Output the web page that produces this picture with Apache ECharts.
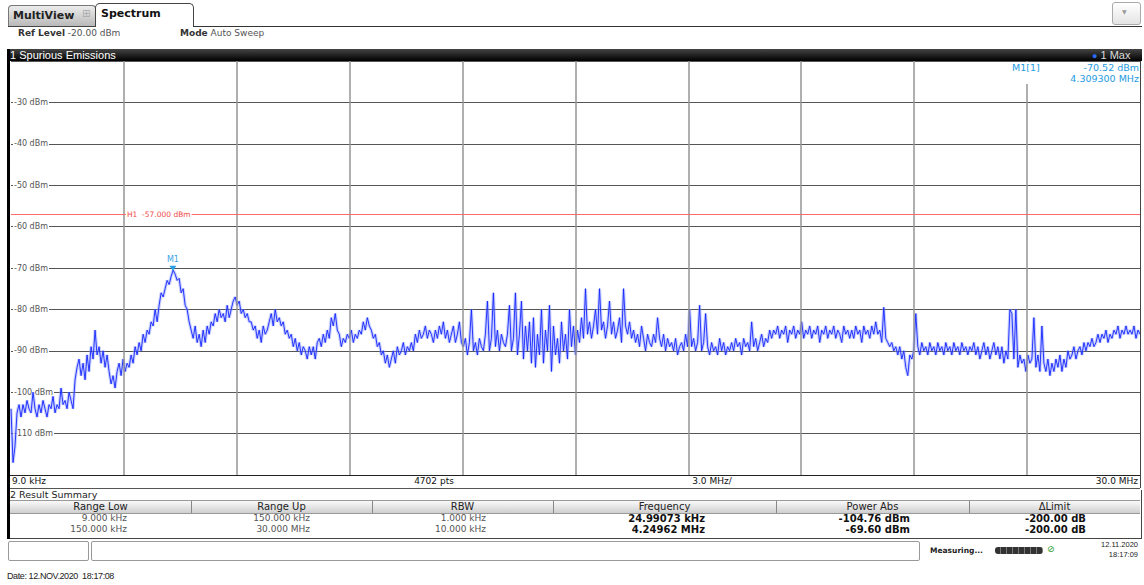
<!DOCTYPE html>
<html><head><meta charset="utf-8">
<script src="https://cdn.jsdelivr.net/npm/echarts@6/dist/echarts.min.js"></script>
<style>
html,body{margin:0;padding:0;background:#fff;}
body{width:1144px;height:585px;overflow:hidden;position:relative;font-family:"DejaVu Sans",sans-serif;color:#222;}
.a{position:absolute;white-space:nowrap;}
</style></head><body>
<script>
// ---------------- data ----------------
const startFreqMHz = 0.009;
const stopFreqMHz = 30.0;
const sweepPoints = 4702;
const refLevelDbm = -20;
const yMinDbm = -120;
const yStepDb = 10;
const limitH1Dbm = -57.0;
const markerM1 = { name: 'M1', freqMHz: 4.3093, levelDbm: -70.52 };
// trace levels (dBm), evenly spread across the sweep span
const traceDbm = [
 -104,-117,-113,-105,-103,-106,-103,-105,-102,-104,
 -105,-100,-104,-106,-103,-105,-102,-104,-106,-103,
 -104,-101,-105,-103,-104,-99,-103,-102,-104,-100,
 -102,-104,-97,-94,-92,-96,-93,-97,-91,-95,
 -89,-92,-85,-91,-89,-93,-90,-94,-91,-95,
 -98,-96,-99,-95,-93,-96,-92,-95,-93,-94,
 -91,-93,-89,-91,-88,-90,-86,-88,-85,-86,
 -83,-84,-80,-83,-79,-76,-77,-75,-73,-74,
 -72,-70.52,-71.5,-73,-72.5,-76,-75,-79,-80,-83,
 -85,-87,-84,-88,-86,-89,-85,-88,-84,-86,
 -83,-84,-81,-83,-80,-82,-81,-83,-79,-82,
 -80,-78,-77,-79,-78,-81,-80,-82,-81,-83,
 -83,-85,-84,-87,-85,-88,-84,-86,-85,-83,
 -81,-84,-80,-83,-82,-84,-83,-86,-85,-87,
 -86,-89,-87,-90,-88,-91,-89,-90,-92,-89,
 -91,-89,-92,-88,-87,-89,-86,-88,-85,-87,
 -82,-84,-81,-85,-86,-89,-87,-88,-86,-87,
 -85,-88,-86,-87,-85,-86,-83,-85,-82,-84,
 -85,-87,-86,-89,-88,-91,-90,-93,-91,-94,
 -92,-90,-93,-89,-91,-90,-88,-91,-89,-90,
 -88,-90,-86,-88,-85,-87,-86,-84,-87,-85,
 -86,-88,-85,-87,-84,-86,-83,-87,-85,-88,
 -86,-84,-88,-86,-83,-88,-89,-87,-91,-88,
 -80,-90,-88,-91,-87,-89,-90,-86,-78,-90,
 -87,-76,-89,-85,-90,-86,-88,-89,-86,-79,
 -90,-87,-76,-91,-86,-78,-92,-84,-90,-83,
 -93,-82,-94,-86,-91,-80,-93,-85,-90,-79,
 -95,-84,-91,-87,-93,-83,-90,-86,-92,-80,
 -89,-84,-91,-85,-88,-82,-87,-75,-86,-83,
 -87,-84,-80,-86,-75,-85,-83,-87,-84,-78,
 -86,-83,-87,-85,-82,-88,-75,-84,-86,-83,
 -87,-85,-88,-86,-89,-84,-87,-90,-86,-88,
 -89,-86,-88,-82,-87,-89,-86,-90,-87,-89,
 -88,-90,-87,-91,-89,-88,-90,-86,-89,-80,
 -89,-87,-90,-88,-79,-90,-88,-81,-89,-91,
 -88,-90,-89,-91,-87,-90,-88,-91,-89,-90,
 -88,-90,-87,-89,-88,-91,-87,-89,-88,-90,
 -83,-89,-87,-90,-88,-86,-89,-87,-88,-85,
 -87,-85,-86,-84,-87,-85,-86,-84,-88,-85,
 -86,-84,-87,-85,-86,-83,-87,-85,-86,-84,
 -87,-85,-86,-84,-88,-85,-86,-84,-87,-85,
 -86,-84,-87,-85,-86,-88,-84,-86,-85,-87,
 -85,-87,-84,-86,-85,-88,-84,-86,-85,-87,
 -84,-86,-83,-86,-85,-88,-79.5,-87,-88,-89,
 -88,-90,-89,-91,-89,-92,-90,-94,-96,-91,
 -92,-90,-81,-89,-91,-88,-90,-89,-91,-88,
 -90,-89,-91,-88,-90,-89,-91,-88,-90,-89,
 -91,-88,-90,-89,-91,-88,-90,-89,-91,-89,
 -90,-88,-91,-89,-92,-90,-88,-91,-89,-92,
 -90,-88,-91,-89,-92,-89,-93,-90,-92,-80,
 -81,-92,-80,-94,-91,-93,-92,-95,-91,-93,
 -92,-82,-94,-91,-95,-84,-93,-95,-92,-96,
 -93,-95,-92,-94,-91,-95,-92,-94,-90,-92,
 -91,-89,-92,-90,-89,-91,-88,-90,-88,-89,
 -87,-89,-88,-86,-88,-86,-87,-85,-88,-86,
 -87,-85,-86,-84,-87,-85,-86,-84,-86,-85,
 -86,-84,-87,-85,-86
];
const axisBottomLabels = ['9.0 kHz', '4702 pts', '3.0 MHz/', '30.0 MHz'];
const tableHeaders = ['Range Low', 'Range Up', 'RBW', 'Frequency', 'Power Abs', '\u0394Limit'];
const tableRow1 = ['9.000 kHz', '150.000 kHz', '1.000 kHz', '24.99073 kHz', '-104.76 dBm', '-200.00 dB'];
const tableRow2 = ['150.000 kHz', '30.000 MHz', '10.000 kHz', '4.24962 MHz', '-69.60 dBm', '-200.00 dB'];
</script>

<!-- tabs -->
<div class="a" style="left:8px;top:5px;width:86px;height:20px;background:linear-gradient(#ececec,#b9b9b9);border:1px solid #777;border-bottom:none;border-radius:4px 4px 0 0;"></div>
<div class="a" style="left:13px;top:9px;font-size:11px;font-weight:bold;color:#222;">MultiView</div>
<div class="a" style="left:82px;top:8px;font-size:10px;color:#aaa;">&#8862;</div>
<div class="a" style="left:95px;top:3px;width:97px;height:23px;background:#fff;border:1px solid #444;border-bottom:none;border-radius:5px 5px 0 0;"></div>
<div class="a" style="left:101px;top:7px;font-size:11px;font-weight:bold;color:#111;">Spectrum</div>
<div class="a" style="left:8px;top:26px;width:87px;height:0;border-top:1px solid #444;"></div>
<div class="a" style="left:193px;top:26px;width:949px;height:0;border-top:1px solid #333;"></div>
<div class="a" style="left:1112px;top:2px;width:27px;height:21px;background:linear-gradient(#fff,#e4e4e4);border:1px solid #aaa;border-radius:3px;"></div>
<div class="a" style="left:1122px;top:8px;font-size:6px;color:#999;">&#9660;</div>

<!-- info line -->
<div class="a" style="left:18px;top:28px;font-size:9px;color:#333;"><b>Ref Level</b> <span style="color:#555">-20.00 dBm</span></div>
<div class="a" style="left:180px;top:28px;font-size:9px;color:#333;"><b>Mode</b> <span style="color:#555">Auto Sweep</span></div>

<!-- window header -->
<div class="a" style="left:8px;top:49px;width:1134px;height:12px;background:linear-gradient(#444,#000);"></div>
<div class="a" style="left:10px;top:49px;font-family:'Liberation Sans',sans-serif;font-size:11px;line-height:12px;color:#fff;">1 Spurious Emissions</div>
<div class="a" style="left:1092px;top:49px;font-family:'Liberation Sans',sans-serif;font-size:11px;line-height:12px;color:#ddd;"><span style="color:#2a6cff;font-size:9px;">&#9679;</span> 1 Max</div>
<div class="a" style="left:7px;top:49px;width:3px;height:490px;background:#000;"></div>

<!-- plot -->
<div id="chart" class="a" style="left:10px;top:61px;width:1130px;height:414px;"></div>
<div class="a" style="left:1140px;top:61px;width:1px;height:427px;background:#444;"></div>

<!-- marker info -->
<div class="a" style="left:1004px;top:62px;width:136px;height:22px;background:#fff;z-index:5;"></div>
<div class="a" style="left:1012px;top:62px;font-size:9.5px;color:#1e9be2;z-index:6;">M1[1]</div>
<div class="a" style="right:5px;top:62px;font-size:9.5px;color:#1e9be2;z-index:6;text-align:right;">-70.52 dBm</div>
<div class="a" style="right:5px;top:73px;font-size:9.5px;color:#1e9be2;z-index:6;text-align:right;">4.309300 MHz</div>

<!-- bottom axis row -->
<div class="a" style="left:10px;top:475px;width:1130px;height:12px;border-top:1px solid #222;border-bottom:1px solid #555;"></div>
<div id="xl0" class="a" style="left:12px;top:476px;font-size:9px;color:#111;"></div>
<div id="xl1" class="a" style="left:434px;top:476px;font-size:9px;color:#111;transform:translateX(-50%);"></div>
<div id="xl2" class="a" style="left:712px;top:476px;font-size:9px;color:#111;transform:translateX(-50%);"></div>
<div id="xl3" class="a" style="right:6px;top:476px;font-size:9px;color:#111;"></div>

<!-- result summary -->
<div class="a" style="left:10px;top:490px;width:1131px;height:48px;border-right:1px solid #444;border-bottom:1px solid #444;"></div>
<div class="a" style="left:10px;top:489px;font-size:9.5px;color:#222;">2 Result Summary</div>
<div id="tbl"></div>

<!-- status bar -->
<div class="a" style="left:8px;top:541px;width:79px;height:18px;border:1px solid #999;border-radius:2px;"></div>
<div class="a" style="left:91px;top:541px;width:827px;height:18px;border:1px solid #999;border-radius:2px;"></div>
<div class="a" style="left:930px;top:546px;font-size:7.5px;font-weight:bold;color:#222;">Measuring...</div>
<div class="a" style="left:995px;top:547px;width:48px;height:7px;background:repeating-linear-gradient(90deg,#333 0 5px,#777 5px 6px);border-radius:3px;"></div>
<div class="a" style="left:1047px;top:544px;font-size:9px;color:#2a9a2a;">&#8856;</div>
<div class="a" style="right:6px;top:540px;font-size:7.5px;color:#222;text-align:right;font-family:'Liberation Sans',sans-serif;">12.11.2020</div>
<div class="a" style="right:6px;top:550px;font-size:7.5px;color:#222;text-align:right;font-family:'Liberation Sans',sans-serif;">18:17:09</div>

<div class="a" style="left:7px;top:571px;font-size:9px;color:#222;font-family:'Liberation Sans',sans-serif;letter-spacing:-0.4px;">Date: 12.NOV.2020&nbsp; 18:17:08</div>

<script>
// bottom labels
axisBottomLabels.forEach((t,i)=>{document.getElementById('xl'+i).textContent=t;});

// table
(function(){
  const bounds=[10,191,372,553,776,969,1140];
  const rightEdges=[127,310,486,705,910,1086];
  const tbl=document.getElementById('tbl');
  let h='<div class="a" style="left:10px;top:500px;width:1130px;height:12px;background:linear-gradient(#fafafa,#cfcfcf);border-top:1px solid #999;border-bottom:1px solid #999;"></div>';
  for(let c=0;c<6;c++){
    const l=bounds[c], w=bounds[c+1]-bounds[c];
    if(c>0) h+='<div class="a" style="left:'+l+'px;top:501px;width:1px;height:12px;background:#888;"></div>';
    h+='<div class="a" style="left:'+l+'px;top:500px;width:'+w+'px;text-align:center;font-size:10px;line-height:13px;color:#222;">'+tableHeaders[c]+'</div>';
    const bold=c>=3;
    const st='font-size:'+(bold?'10px':'9px')+';'+(bold?'font-weight:bold;color:#111;':'color:#555;')+'line-height:11px;';
    h+='<div class="a" style="right:'+(1144-rightEdges[c])+'px;top:513px;text-align:right;'+st+'">'+tableRow1[c]+'</div>';
    h+='<div class="a" style="right:'+(1144-rightEdges[c])+'px;top:524px;text-align:right;'+st+'">'+tableRow2[c]+'</div>';
  }
  tbl.innerHTML=h;
})();

// chart
const chart = echarts.init(document.getElementById('chart'), null, {renderer:'svg'});
const span = stopFreqMHz - startFreqMHz;
const traceData = traceDbm.map((v,i)=>[startFreqMHz + i*span/(traceDbm.length-1), v]);
const vGrid = [];
for(let k=1;k<10;k++) vGrid.push({xAxis: startFreqMHz + k*span/10});
chart.setOption({
  animation:false,
  grid:{left:0,right:0,top:0,bottom:0},
  xAxis:{type:'value',min:startFreqMHz,max:stopFreqMHz,show:false},
  yAxis:{type:'value',min:yMinDbm,max:refLevelDbm,interval:yStepDb,
    axisLine:{show:false},axisTick:{show:false},
    splitLine:{lineStyle:{color:'#555',width:1}},
    axisLabel:{inside:true,margin:2,showMinLabel:false,showMaxLabel:false,
      formatter:v=>v+' dBm',color:'#555',fontSize:8,fontFamily:'DejaVu Sans',
      backgroundColor:'#fff',padding:[0,1,0,1]}},
  series:[
    {type:'line',data:[],z:1,silent:true,
     markLine:{silent:true,symbol:'none',animation:false,label:{show:false},
       lineStyle:{color:'#959595',width:1.5,type:'solid'},
       data:vGrid.concat([{yAxis:limitH1Dbm,lineStyle:{color:'#ff6a6a',width:1}}])},
     markPoint:{silent:true,animation:false,
       data:[{coord:[startFreqMHz+span/10,limitH1Dbm],symbol:'rect',symbolSize:0,
         label:{show:true,position:'right',distance:2,formatter:'H1  -57.000 dBm',color:'#f04a4a',
           fontSize:7.5,fontFamily:'DejaVu Sans',backgroundColor:'#fff',padding:[0,1]}}]}},
    {type:'line',data:traceData,z:2,symbol:'none',showSymbol:false,silent:true,
     lineStyle:{color:'#8a96ff',width:3.2,opacity:0.45}},
    {type:'line',data:traceData,z:3,symbol:'none',showSymbol:false,silent:true,
     lineStyle:{color:'#1426ff',width:1,opacity:0.9},
     markPoint:{silent:true,animation:false,
       data:[{coord:[markerM1.freqMHz,markerM1.levelDbm],symbol:'triangle',symbolRotate:180,symbolSize:[7,5],
         symbolOffset:[0,-2],itemStyle:{color:'#2a9fe6'},
         label:{show:true,position:'top',distance:2,formatter:markerM1.name,color:'#3aa3e6',fontSize:8,fontFamily:'DejaVu Sans'}}]}}
  ]
});
</script>
</body></html>
